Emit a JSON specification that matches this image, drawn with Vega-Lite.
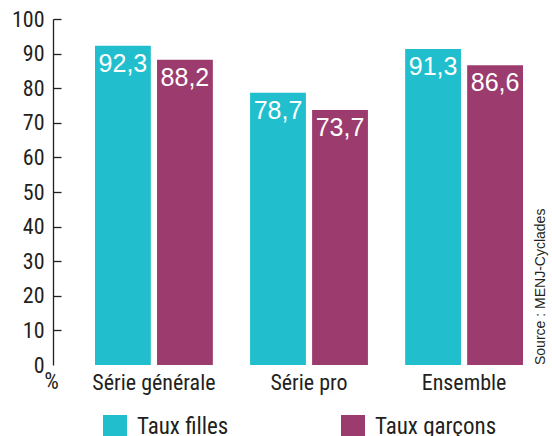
{
  "$schema": "https://vega.github.io/schema/vega-lite/v6.json",
  "width": 428,
  "height": 346,
  "autosize": {"type": "none"},
  "padding": {"left": 95, "top": 19, "right": 29, "bottom": 71},
  "background": "white",
  "config": {
    "view": {"stroke": null},
    "locale": {"number": {"decimal": ",", "thousands": "\u00a0", "grouping": [3], "currency": ["", " €"]}}
  },
  "title": {
    "text": "Source : MENJ-Cyclades",
    "orient": "right",
    "anchor": "end",
    "frame": "group",
    "angle": -90,
    "align": "left",
    "baseline": "top",
    "offset": -3,
    "fontSize": 14,
    "font": "Liberation Sans",
    "fontWeight": "normal",
    "color": "#231f20"
  },
  "data": {
    "values": [
      {"cat": "Série générale", "serie": "Taux filles", "taux": 92.3},
      {"cat": "Série générale", "serie": "Taux garçons", "taux": 88.2},
      {"cat": "Série pro", "serie": "Taux filles", "taux": 78.7},
      {"cat": "Série pro", "serie": "Taux garçons", "taux": 73.7},
      {"cat": "Ensemble", "serie": "Taux filles", "taux": 91.3},
      {"cat": "Ensemble", "serie": "Taux garçons", "taux": 86.6}
    ]
  },
  "encoding": {
    "x": {
      "field": "cat", "type": "nominal", "sort": null,
      "scale": {"paddingInner": 0.24, "paddingOuter": 0},
      "axis": {
        "title": null, "domain": false, "ticks": false, "labelAngle": 0,
        "labelFontSize": 22, "labelFont": "Liberation Sans Narrow, Roboto Condensed, DejaVu Sans Condensed, Roboto, sans-serif",
        "labelColor": "#231f20", "labelPadding": 7
      }
    },
    "xOffset": {"field": "serie", "type": "nominal", "sort": null, "scale": {"paddingInner": 0.1, "paddingOuter": 0}},
    "y": {
      "field": "taux", "type": "quantitative",
      "scale": {"domain": [0, 100], "nice": false},
      "axis": {
        "title": "%", "titleAngle": 0, "titleX": -2, "titleY": 362, "titleAlign": "center", "titleBaseline": "middle",
        "titleFontSize": 23, "titleFontWeight": "normal", "titleColor": "#231f20",
        "titleFont": "Liberation Sans Narrow, Roboto Condensed, DejaVu Sans Condensed, Roboto, sans-serif",
        "offset": 42, "values": [0, 10, 20, 30, 40, 50, 60, 70, 80, 90, 100],
        "grid": false, "domainColor": "#231f20", "domainWidth": 1.3,
        "tickColor": "#231f20", "tickWidth": 1.3, "tickSize": -8,
        "tickOpacity": {"condition": {"test": "datum.value == 0", "value": 0}, "value": 1},
        "labelFontSize": 22, "labelFont": "Liberation Sans Narrow, Roboto Condensed, DejaVu Sans Condensed, Roboto, sans-serif",
        "labelColor": "#231f20", "labelPadding": 17
      }
    }
  },
  "layer": [
    {
      "mark": {"type": "bar"},
      "encoding": {
        "color": {
          "field": "serie", "type": "nominal", "sort": null,
          "scale": {"domain": ["Taux filles", "Taux garçons"], "range": ["#21bfcd", "#9c3b6e"]},
          "legend": {
            "title": null, "orient": "none", "legendX": 8, "legendY": 396, "direction": "horizontal",
            "symbolType": "square", "symbolSize": 576, "symbolStrokeWidth": 0, "symbolOpacity": 1,
            "labelFontSize": 23, "labelFont": "Liberation Sans Narrow, Roboto Condensed, DejaVu Sans Condensed, Roboto, sans-serif",
            "labelColor": "#231f20", "labelOffset": 10, "columnPadding": 112, "padding": 0
          }
        }
      }
    },
    {
      "mark": {"type": "text", "baseline": "alphabetic", "dy": 26, "fontSize": 25, "font": "Liberation Sans", "color": "white"},
      "encoding": {
        "text": {"field": "taux", "type": "quantitative", "format": ".1f"}
      }
    }
  ]
}
